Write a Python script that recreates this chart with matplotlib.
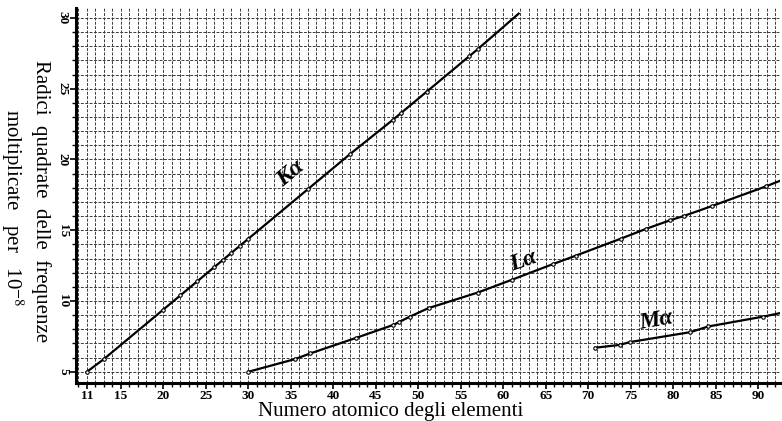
import matplotlib.pyplot as plt
from matplotlib.ticker import MultipleLocator

# Moseley-type diagram, values
ka_z = [11, 13, 20, 22, 24, 26, 27, 28, 29, 30, 37, 42, 47, 48, 51, 56, 57, 61.8]
ka_v = [5.0, 5.9, 9.4, 10.4, 11.4, 12.4, 12.9, 13.4, 13.9, 14.4, 17.9, 20.4, 22.8, 23.3, 24.8, 27.3, 27.8, 30.3]

la_z = [30, 35.5, 37.3, 42.7, 47, 47.7, 49, 51.2, 57, 61, 65.8, 68.5, 73.8, 76.8, 79.6, 81.2, 84.5, 90.9, 93]
la_v = [5.0, 5.9, 6.3, 7.4, 8.3, 8.5, 8.9, 9.5, 10.6, 11.5, 12.6, 13.2, 14.4, 15.1, 15.7, 16.0, 16.7, 18.1, 18.6]

ma_z = [70.8, 73.7, 74.9, 82, 84.1, 90.6, 93]
ma_v = [6.7, 6.9, 7.1, 7.8, 8.2, 8.9, 9.2]

xticks = [11, 15, 20, 25, 30, 35, 40, 45, 50, 55, 60, 65, 70, 75, 80, 85, 90]
yticks = [5, 10, 15, 20, 25, 30]

plt.rcParams['font.family'] = ['Liberation Serif', 'DejaVu Serif']
plt.rcParams['mathtext.fontset'] = 'stix'

fig = plt.figure(figsize=(7.82, 4.21), dpi=100)
ax = fig.add_axes([0.097, 0.090, 0.901, 0.891])

ax.set_xlim(9.7, 92.6)
ax.set_ylim(4.2, 30.7)

ax.xaxis.set_minor_locator(MultipleLocator(1))
ax.yaxis.set_minor_locator(MultipleLocator(1))
ax.grid(which='both', color='#3a3a3a', linestyle=(0, (3, 1.5)), linewidth=0.7)
ax.set_axisbelow(True)

for z, v in [(ka_z, ka_v), (la_z, la_v), (ma_z, ma_v)]:
    ax.plot(z, v, color='black', lw=1.6, zorder=3)
    ax.plot(z[:-1], v[:-1], 'o', ms=2.5, mfc='white', mec='black', mew=0.8, zorder=4)

tkw = dict(fontsize=17, fontweight='bold', style='italic', zorder=5)
ax.text(35.0, 19.0, 'Kα', rotation=40, ha='center', va='center', **tkw)
ax.text(62.3, 12.8, 'Lα', rotation=19, ha='center', va='center', **tkw)
ax.text(78.0, 8.6, 'Mα', rotation=10, ha='center', va='center', **tkw)

ax.set_xticks(xticks)
ax.set_yticks(yticks)
ax.set_xticklabels([str(t) for t in xticks], fontsize=9.5, fontweight='bold')
ax.set_yticklabels([str(t) for t in yticks], fontsize=9.5, fontweight='bold',
                   rotation=-90, va='center')
ax.tick_params(which='major', direction='out', length=4, width=1.2, pad=1)
ax.tick_params(which='minor', direction='out', length=3, width=1.0)

for s in ['top', 'right']:
    ax.spines[s].set_visible(False)
for s in ['left', 'bottom']:
    ax.spines[s].set_linewidth(2.2)

fig.text(0.50, 0.022, 'Numero atomico degli elementi', fontsize=15,
         ha='center', va='center')
fig.text(0.053, 0.523, 'Radici  quadrate  delle  frequenze',
         rotation=-90, ha='center', va='center', fontsize=15)
fig.text(0.016, 0.506, 'moltiplicate   per   10$^{-8}$',
         rotation=-90, ha='center', va='center', fontsize=15)

fig.savefig('out.png', dpi=100)
